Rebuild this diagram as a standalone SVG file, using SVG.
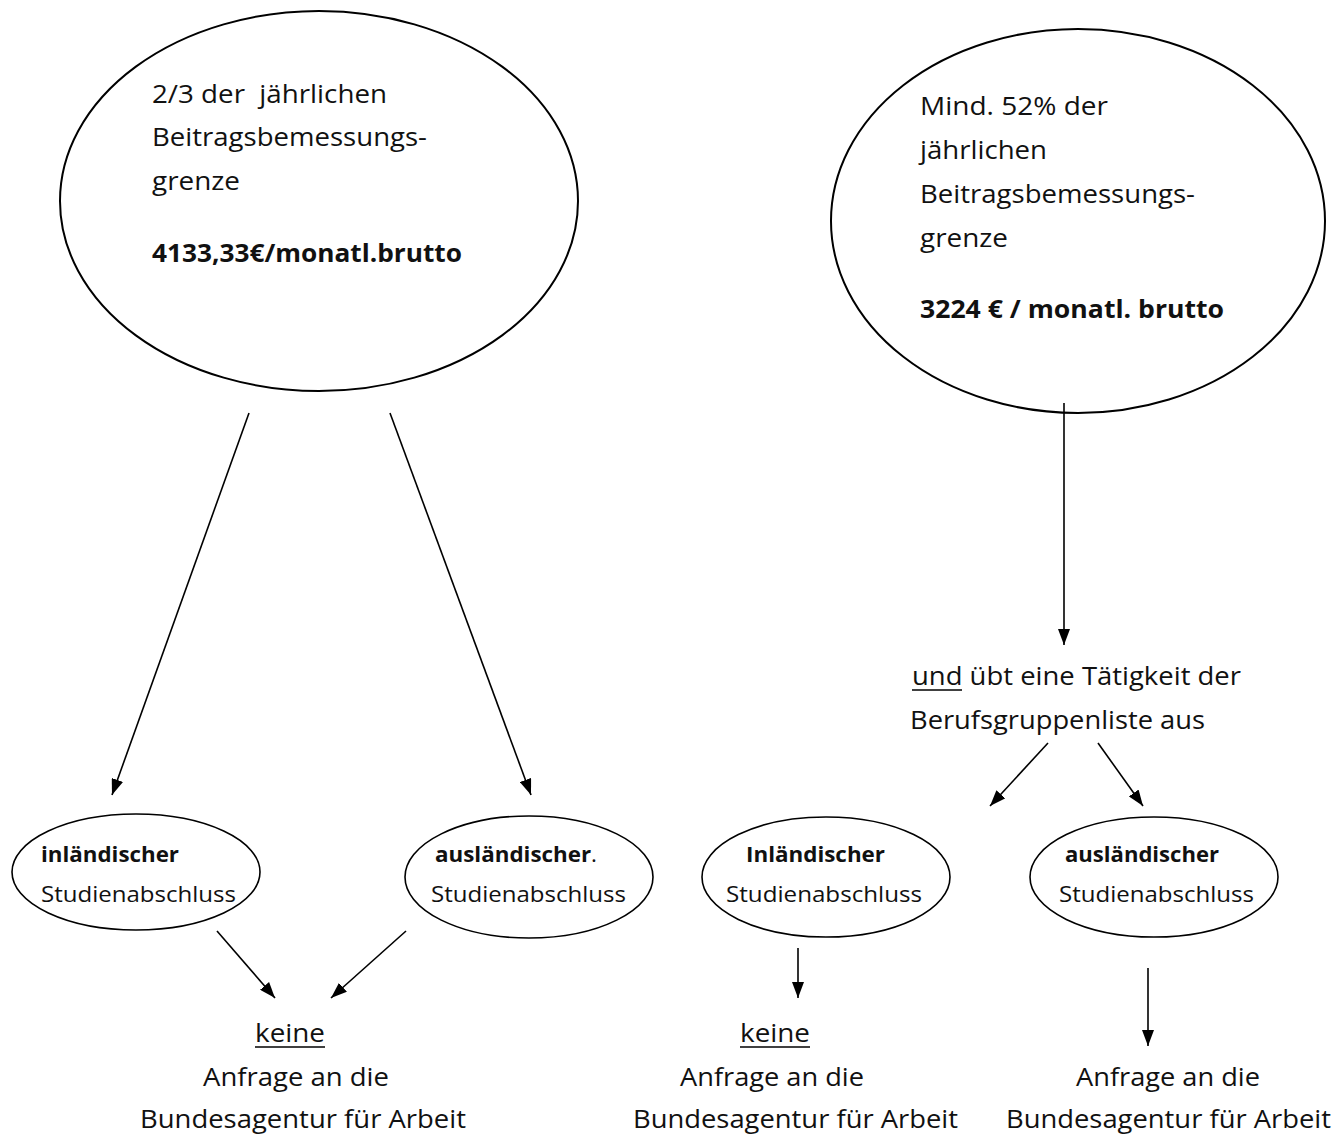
<svg xmlns="http://www.w3.org/2000/svg" width="1338" height="1137" viewBox="0 0 1338 1137">
<style>
  text { font-family: "Open Sans", Lato, "Liberation Sans", sans-serif; fill: #111; }
  .big { font-size: 25px; }
  .sm { font-size: 21px; }
  .b { font-weight: bold; }
  .node { fill: #fff; stroke: #000; stroke-width: 2; }
  .node.s { stroke-width: 1.6; }
  .conn line { stroke: #000; stroke-width: 1.6; marker-end: url(#ah); }
  .ul { stroke: #000; stroke-width: 1.6; }
</style>
<defs>
  <marker id="ah" viewBox="0 0 16 12" refX="16" refY="6" markerWidth="16" markerHeight="12" markerUnits="userSpaceOnUse" orient="auto">
    <path d="M0,0 L16,6 L0,12 z" fill="#000"/>
  </marker>
</defs>
<rect width="1338" height="1137" fill="#fff"/>
<g id="ellipse-left">
  <ellipse class="node" cx="319" cy="201" rx="259" ry="190"/>
  <text class="big" x="152" y="103" textLength="235" lengthAdjust="spacingAndGlyphs" xml:space="preserve">2/3 der  jährlichen</text>
  <text class="big" x="152" y="146" textLength="275" lengthAdjust="spacingAndGlyphs">Beitragsbemessungs-</text>
  <text class="big" x="152" y="190" textLength="88" lengthAdjust="spacingAndGlyphs">grenze</text>
  <text class="big b" x="152" y="262" textLength="310" lengthAdjust="spacingAndGlyphs">4133,33€/monatl.brutto</text>
</g>
<g id="ellipse-right">
  <ellipse class="node" cx="1078" cy="221" rx="247" ry="192"/>
  <text class="big" x="920" y="115" textLength="188" lengthAdjust="spacingAndGlyphs">Mind. 52% der</text>
  <text class="big" x="920" y="159" textLength="127" lengthAdjust="spacingAndGlyphs">jährlichen</text>
  <text class="big" x="920" y="203" textLength="275" lengthAdjust="spacingAndGlyphs">Beitragsbemessungs-</text>
  <text class="big" x="920" y="247" textLength="88" lengthAdjust="spacingAndGlyphs">grenze</text>
  <text class="big b" x="920" y="318" textLength="304" lengthAdjust="spacingAndGlyphs">3224 € / monatl. brutto</text>
</g>
<g id="taetigkeit">
  <text class="big" x="912" y="685" textLength="329" lengthAdjust="spacingAndGlyphs">und übt eine Tätigkeit der</text>
  <line class="ul" x1="912" y1="690" x2="962" y2="690"/>
  <text class="big" x="910" y="729" textLength="295" lengthAdjust="spacingAndGlyphs">Berufsgruppenliste aus</text>
</g>
<g id="inl-left">
  <ellipse class="node s" cx="136" cy="872" rx="124" ry="58"/>
  <text class="sm b" x="41" y="862" textLength="138" lengthAdjust="spacingAndGlyphs">inländischer</text>
  <text class="sm" x="41" y="902" textLength="195" lengthAdjust="spacingAndGlyphs">Studienabschluss</text>
</g>
<g id="ausl-left">
  <ellipse class="node s" cx="529" cy="877" rx="124" ry="61"/>
  <text class="sm b" x="435" y="862" textLength="162" lengthAdjust="spacingAndGlyphs">ausländischer<tspan font-weight="normal">.</tspan></text>
  <text class="sm" x="431" y="902" textLength="195" lengthAdjust="spacingAndGlyphs">Studienabschluss</text>
</g>
<g id="inl-right">
  <ellipse class="node s" cx="826" cy="877" rx="124" ry="60"/>
  <text class="sm b" x="746" y="862" textLength="139" lengthAdjust="spacingAndGlyphs">Inländischer</text>
  <text class="sm" x="726" y="902" textLength="196" lengthAdjust="spacingAndGlyphs">Studienabschluss</text>
</g>
<g id="ausl-right">
  <ellipse class="node s" cx="1154" cy="877" rx="124" ry="60"/>
  <text class="sm b" x="1065" y="862" textLength="154" lengthAdjust="spacingAndGlyphs">ausländischer</text>
  <text class="sm" x="1059" y="902" textLength="195" lengthAdjust="spacingAndGlyphs">Studienabschluss</text>
</g>
<g id="result-left">
  <text class="big" x="255" y="1042" textLength="70" lengthAdjust="spacingAndGlyphs">keine</text>
  <line class="ul" x1="255" y1="1047" x2="325" y2="1047"/>
  <text class="big" x="203" y="1086" textLength="186" lengthAdjust="spacingAndGlyphs">Anfrage an die</text>
  <text class="big" x="140" y="1128" textLength="326" lengthAdjust="spacingAndGlyphs">Bundesagentur für Arbeit</text>
</g>
<g id="result-mid">
  <text class="big" x="740" y="1042" textLength="70" lengthAdjust="spacingAndGlyphs">keine</text>
  <line class="ul" x1="740" y1="1047" x2="810" y2="1047"/>
  <text class="big" x="680" y="1086" textLength="184" lengthAdjust="spacingAndGlyphs">Anfrage an die</text>
  <text class="big" x="633" y="1128" textLength="325" lengthAdjust="spacingAndGlyphs">Bundesagentur für Arbeit</text>
</g>
<g id="result-right">
  <text class="big" x="1076" y="1086" textLength="184" lengthAdjust="spacingAndGlyphs">Anfrage an die</text>
  <text class="big" x="1006" y="1128" textLength="325" lengthAdjust="spacingAndGlyphs">Bundesagentur für Arbeit</text>
</g>
<g id="connectors" class="conn">
  <line x1="249" y1="413" x2="112" y2="795"/>
  <line x1="390" y1="413" x2="531" y2="795"/>
  <line x1="1064" y1="403" x2="1064" y2="645"/>
  <line x1="1048" y1="743" x2="990" y2="806"/>
  <line x1="1098" y1="743" x2="1143" y2="806"/>
  <line x1="217" y1="931" x2="275" y2="998"/>
  <line x1="406" y1="931" x2="331" y2="998"/>
  <line x1="798" y1="948" x2="798" y2="998"/>
  <line x1="1148" y1="968" x2="1148" y2="1046"/>
</g>
</svg>
